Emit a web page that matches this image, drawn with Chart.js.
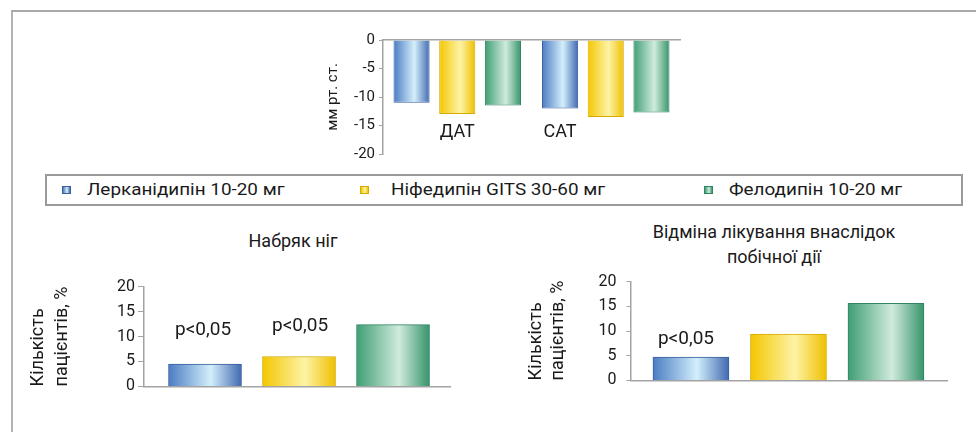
<!DOCTYPE html>
<html><head><meta charset="utf-8">
<script src="https://cdn.jsdelivr.net/npm/chart.js@4.4.1/dist/chart.umd.min.js"></script>
<style>
html,body{margin:0;padding:0;background:#fff;width:976px;height:432px;overflow:hidden;font-family:Roboto,sans-serif;}
#frame{position:absolute;left:11px;top:10px;width:965px;height:422px;border-left:2px solid #b3b3b3;border-top:2px solid #a9a9a9;box-sizing:border-box;}
canvas{position:absolute;}
#legend{position:absolute;left:45px;top:174px;width:914px;height:28px;border:2px solid #9a9a9a;}
.sw{position:absolute;width:7px;height:6px;border:1px solid;}
.lt{position:absolute;height:20px;line-height:20px;font-family:Roboto,sans-serif;font-size:16px;color:#1a1a1a;white-space:nowrap;transform:scaleX(1.18);transform-origin:0 50%;}
.title{position:absolute;font-family:Roboto,sans-serif;font-size:18px;color:#1a1a1a;text-align:center;line-height:25px;white-space:nowrap;}
</style>
</head><body>
<div id="frame"></div>
<canvas id="bp" width="410" height="150" style="left:280px;top:20px"></canvas>
<div id="legend"></div>
<div class="title" id="t1" style="left:193px;top:228px;width:200px;"></div>
<div class="title" id="t2" style="left:624px;top:219px;width:300px;"></div>
<canvas id="edema" width="440" height="133" style="left:20px;top:266px"></canvas>
<canvas id="withdraw" width="460" height="138" style="left:500px;top:262px"></canvas>
<script>
// ---- data ----
const drugs = ['Лерканідипін 10-20 мг', 'Ніфедипін GITS 30-60 мг', 'Фелодипін 10-20 мг'];
const bpCategories = ['ДАТ', 'САТ'];
const bpLercanidipine = [-11.0, -12.0];
const bpNifedipine = [-13.0, -13.5];
const bpFelodipine = [-11.5, -12.7];
const bpTicks = [0, -5, -10, -15, -20];
const bpAxisTitle = 'мм рт. ст.';
const edemaTitle = ['Набряк ніг'];
const edemaValues = [4.5, 6.0, 12.4];
const edemaNotes = ['p<0,05', 'p<0,05', ''];
const withdrawTitle = ['Відміна лікування внаслідок', 'побічної дії'];
const withdrawValues = [4.7, 9.4, 15.6];
const withdrawNotes = ['p<0,05', '', ''];
const pctTicks = [0, 5, 10, 15, 20];
const pctAxisTitle = ['Кількість', 'пацієнтів, %'];

// ---- styles ----
const palette = [
  {edge:'#4b7cc3', mid:'#d3effb', edge2:'#4169b0', border:'#3a5f9f', css:'linear-gradient(90deg,#4b7cc3,#d3effb 58%,#4169b0)'},
  {edge:'#f4c600', mid:'#fdf3a6', edge2:'#f0c000', border:'#d6aa00', css:'linear-gradient(90deg,#f4c600,#fdf3a6 58%,#f0c000)'},
  {edge:'#3f9e74', mid:'#d0ebdc', edge2:'#36946b', border:'#2e8560', css:'linear-gradient(90deg,#3f9e74,#d0ebdc 58%,#36946b)'}
];
const axisColor = '#a3a3a3';
const textColor = '#1a1a1a';
const legendLayout = [{sw:62, tx:87}, {sw:360, tx:391}, {sw:704, tx:729}];

// legend
const lg = document.body;
drugs.forEach((d, i) => {
  const s = document.createElement('div');
  s.className = 'sw';
  s.style.left = legendLayout[i].sw + 'px';
  s.style.top = '186px';
  s.style.background = palette[i].css;
  s.style.borderColor = palette[i].border;
  lg.appendChild(s);
  const t = document.createElement('div');
  t.className = 'lt';
  t.style.left = legendLayout[i].tx + 'px';
  t.style.top = '180px';
  t.textContent = d;
  lg.appendChild(t);
});
document.getElementById('t1').innerHTML = edemaTitle.join('<br>');
document.getElementById('t2').innerHTML = withdrawTitle.join('<br>');

// ---- plugins ----
const gradientPlugin = {
  id: 'barGradient',
  beforeDatasetsDraw(chart, args, opts) {
    const ctx = chart.ctx;
    chart.data.datasets.forEach((ds, di) => {
      const meta = chart.getDatasetMeta(di);
      meta.data.forEach((el, i) => {
        const p = palette[opts.byDataset ? di : i];
        const w = el.width, x0 = el.x - w / 2;
        const g = ctx.createLinearGradient(x0, 0, x0 + w, 0);
        g.addColorStop(0, p.edge); g.addColorStop(0.58, p.mid); g.addColorStop(1, p.edge2);
        el.options = Object.assign({}, el.options, {backgroundColor: g, borderColor: p.border});
      });
    });
  }
};
const catLabelPlugin = {
  id: 'catLabels',
  afterDatasetsDraw(chart, args, opts) {
    const ctx = chart.ctx;
    const y = chart.scales.y.getPixelForValue(opts.value);
    ctx.save();
    ctx.font = opts.font; ctx.fillStyle = textColor; ctx.textAlign = 'center'; ctx.textBaseline = 'middle';
    chart.data.labels.forEach((lab, i) => {
      const el = chart.getDatasetMeta(opts.anchor[i]).data[i];
      ctx.fillText(lab, el.x, y);
    });
    ctx.restore();
  }
};
const notePlugin = {
  id: 'barNotes',
  afterDatasetsDraw(chart, args, opts) {
    const ctx = chart.ctx;
    const meta = chart.getDatasetMeta(0);
    ctx.save();
    ctx.font = opts.font; ctx.fillStyle = textColor; ctx.textAlign = 'center'; ctx.textBaseline = 'middle';
    opts.notes.forEach((t, i) => {
      if (!t) return;
      const el = meta.data[i];
      ctx.fillText(t, el.x + (opts.dx[i] || 0), el.y - opts.lift[i]);
    });
    ctx.restore();
  }
};

// ---- top chart ----
const bpSeries = [bpLercanidipine, bpNifedipine, bpFelodipine];
new Chart(document.getElementById('bp'), {
  type: 'bar',
  data: {
    labels: bpCategories,
    datasets: drugs.map((d, i) => ({label: d, data: bpSeries[i], borderWidth: 1, borderSkipped: 'start', backgroundColor: palette[i].edge, borderColor: palette[i].border}))
  },
  options: {
    responsive: false, animation: false, events: [],
    categoryPercentage: 0.923, barPercentage: 0.79,
    layout: {padding: {left: 0, top: 20, right: 10, bottom: 16}},
    plugins: {
      legend: {display: false}, tooltip: {enabled: false},
      barGradient: {byDataset: true},
      catLabels: {value: -16.3, anchor: [1, 0], font: '18px Roboto'}
    },
    scales: {
      x: {position: 'top', grid: {display: false}, border: {display: true, color: axisColor, width: 1.5}, ticks: {display: false}, afterFit: s => { s.height = 0; }},
      y: {
        min: -20, max: 0,
        afterBuildTicks: s => { s.ticks = bpTicks.map(v => ({value: v})); },
        grid: {drawOnChartArea: false, tickLength: 4, color: axisColor},
        border: {color: axisColor, width: 1.5},
        ticks: {padding: 4, color: textColor, font: {family: 'Roboto', size: 15}},
        title: {display: true, text: bpAxisTitle, color: textColor, font: {family: 'Roboto', size: 15}, padding: {top: 44, bottom: 0}},
        afterFit: s => { s.width = 103; }
      }
    }
  },
  plugins: [gradientPlugin, catLabelPlugin]
});

// ---- bottom charts ----
function pctChart(id, values, notes, o) {
  return new Chart(document.getElementById(id), {
    type: 'bar',
    data: {
      labels: drugs,
      datasets: [{data: values.map((v, i) => ({x: i + 1, y: v})), borderWidth: 1, borderSkipped: 'start', backgroundColor: palette.map(p => p.edge), borderColor: palette.map(p => p.border), barThickness: o.barW}]
    },
    options: {
      responsive: false, animation: false, events: [],
      layout: {padding: o.padding},
      plugins: {
        legend: {display: false}, tooltip: {enabled: false},
        barGradient: {byDataset: false},
        barNotes: {notes: notes, lift: o.lift, dx: o.dx, font: '19px Roboto'}
      },
      scales: {
        x: {type: 'linear', offset: false, min: o.xmin, max: o.xmax, grid: {display: false}, border: {display: true, color: axisColor, width: 1.5}, ticks: {display: false},
            afterBuildTicks: s => { s.ticks = values.map((v, i) => ({value: i + 1})); }, afterFit: s => { s.height = 0; }},
        y: {
          min: 0, max: 20,
          afterBuildTicks: s => { s.ticks = pctTicks.map(v => ({value: v})); },
          grid: {drawOnChartArea: false, tickLength: o.tickLen, color: axisColor},
          border: {color: axisColor, width: 1.5},
          ticks: {padding: o.tickPad, color: textColor, font: {family: 'Roboto', size: 16}},
          title: {display: true, align: 'start', text: pctAxisTitle, color: textColor, font: {family: 'Roboto', size: 18, lineHeight: o.titleLH}, padding: {top: o.titlePad, bottom: 0}},
          afterFit: s => { s.width = o.yWidth; }
        }
      }
    },
    plugins: [gradientPlugin, notePlugin]
  });
}
pctChart('edema', edemaValues, edemaNotes, {
  padding: {left: 0, top: 20.7, right: 10, bottom: 10}, xmin: 0.351, xmax: 3.606, barW: 73,
  yWidth: 124, tickLen: 6, tickPad: 3, titleLH: 24 / 18, titlePad: 6, lift: [34, 30, 0], dx: [-2, 1, 0]
});
pctChart('withdraw', withdrawValues, withdrawNotes, {
  padding: {left: 0, top: 17, right: 13, bottom: 10}, xmin: 0.385, xmax: 3.626, barW: 76,
  yWidth: 131, tickLen: 4.5, tickPad: 10, titleLH: 22 / 18, titlePad: 25.5, lift: [18, 0, 0], dx: [-5, 0, 0]
});
</script>
</body></html>
